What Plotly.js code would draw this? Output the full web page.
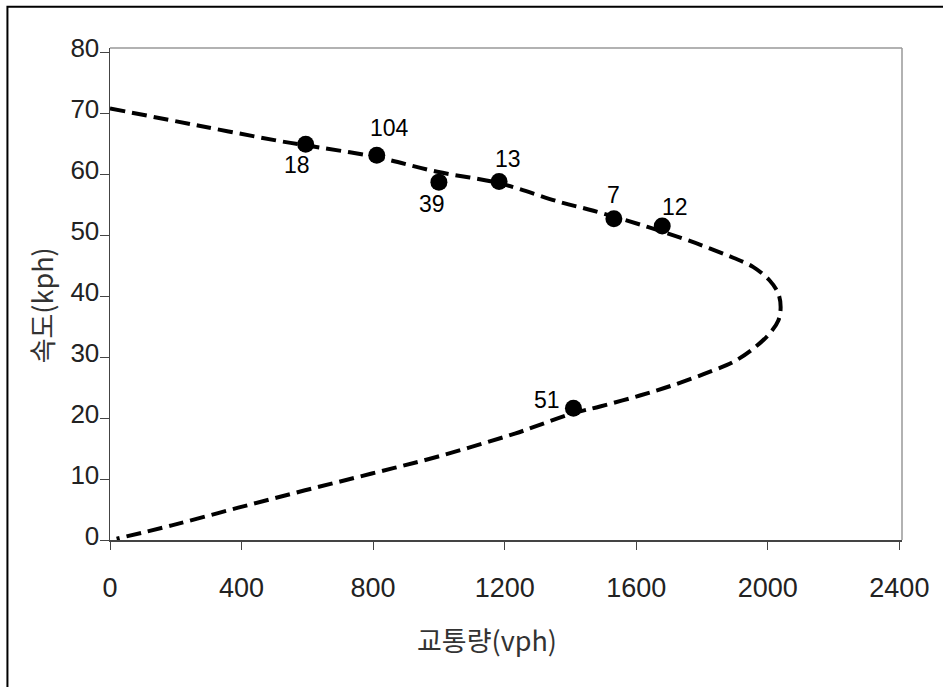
<!DOCTYPE html>
<html>
<head>
<meta charset="utf-8">
<script src="https://cdn.plot.ly/plotly-3.0.1.min.js"></script>
<style>
html,body{margin:0;padding:0;background:#fff;}
#chart{width:943px;height:687px;}
</style>
</head>
<body>
<div id="chart"></div>
<script>
// ---- data ----
var pointFlow  = [595, 811, 1000, 1183, 1532, 1679, 1409];
var pointSpeed = [64.9, 63.1, 58.7, 58.8, 52.7, 51.5, 21.6];
var pointLabel = ["18", "104", "39", "13", "7", "12", "51"];

var curveFlow  = [0, 275, 530, 600, 810, 995, 1185, 1370, 1470, 1620, 1745, 1825, 1895, 1955, 2005, 2032, 2039, 2032, 2006, 1956, 1895, 1834, 1712, 1611, 1490, 1409, 1287, 1231, 998, 796, 593, 390, 188, 20];
var curveSpeed = [70.8, 67.9, 65.3, 64.7, 62.8, 60.4, 58.5, 55.4, 54.0, 51.6, 49.4, 47.8, 46.3, 44.8, 42.6, 40.4, 38.2, 36.0, 33.9, 31.4, 29.2, 27.8, 25.4, 23.7, 21.9, 20.8, 18.5, 17.45, 13.7, 10.9, 8.15, 5.3, 2.4, 0.2];

var xTicks = [0, 400, 800, 1200, 1600, 2000, 2400];
var yTicks = [0, 10, 20, 30, 40, 50, 60, 70, 80];

var xTitle = "교통량(vph)";
var yTitle = "속도(kph)";

// label offsets (px) relative to each point: style only
var labelShift = [[-9,-21],[13,27],[-7,-22],[9,23],[0,24],[13,19],[-26,8]];

var traces = [
  {
    x: curveFlow, y: curveSpeed, type: 'scatter', mode: 'lines',
    line: {color: '#000', width: 4, dash: '15px,7px', shape: 'spline', smoothing: 1},
    hoverinfo: 'skip', showlegend: false
  },
  {
    x: pointFlow, y: pointSpeed, type: 'scatter', mode: 'markers',
    marker: {color: '#000', size: 17},
    showlegend: false
  }
];

var annotations = pointLabel.map(function(t, i){
  return {
    x: pointFlow[i], y: pointSpeed[i], xref: 'x', yref: 'y',
    text: t, showarrow: false,
    xshift: labelShift[i][0], yshift: labelShift[i][1],
    font: {family: 'Liberation Sans, Arial, sans-serif', size: 23, color: '#000'}
  };
});
annotations.push({
  xref: 'paper', yref: 'paper', x: 0.476, y: -0.203,
  text: xTitle, showarrow: false, xanchor: 'center', yanchor: 'middle',
  font: {family: 'Noto Sans CJK KR, sans-serif', size: 27, color: '#333'}
});
annotations.push({
  xref: 'paper', yref: 'paper', x: -0.0865, y: 0.478,
  text: yTitle, showarrow: false, xanchor: 'center', yanchor: 'middle', textangle: -90,
  font: {family: 'Noto Sans CJK KR, sans-serif', size: 27, color: '#333'}
});

var layout = {
  width: 943, height: 687,
  margin: {l: 110, r: 41, t: 48, b: 147},
  paper_bgcolor: '#fff', plot_bgcolor: '#fff',
  xaxis: {
    range: [0, 2408], tickvals: xTicks, ticktext: xTicks.map(String),
    showgrid: false, zeroline: false,
    showline: true, linecolor: '#444', linewidth: 1.5,
    ticks: 'outside', ticklen: 8, tickcolor: '#444', tickwidth: 1,
    ticklabelstandoff: 15,
    tickfont: {family: 'Liberation Sans, Arial, sans-serif', size: 27, color: '#222'}
  },
  yaxis: {
    range: [0, 80.7], tickvals: yTicks, ticktext: yTicks.map(String),
    showgrid: false, zeroline: false,
    showline: true, linecolor: '#444', linewidth: 1.5,
    ticks: 'outside', ticklen: 9, tickcolor: '#444', tickwidth: 1,
    ticklabelstandoff: -5, ticklabelshift: -4,
    tickfont: {family: 'Liberation Sans, Arial, sans-serif', size: 26, color: '#222'}
  },
  annotations: annotations,
  shapes: [
    {type: 'line', xref: 'paper', yref: 'paper', x0: 0, x1: 1, y0: 1, y1: 1, line: {color: '#999', width: 1.5}},
    {type: 'line', xref: 'paper', yref: 'paper', x0: 1, x1: 1, y0: 0, y1: 1, line: {color: '#999', width: 1.5}},
    {type: 'rect', xref: 'paper', yref: 'paper', x0: -0.1295, x1: 1.08, y0: -0.33, y1: 1.0837, line: {color: '#000', width: 2}, fillcolor: 'rgba(0,0,0,0)'}
  ]
};

Plotly.newPlot('chart', traces, layout, {displayModeBar: false, staticPlot: true});
</script>
</body>
</html>
